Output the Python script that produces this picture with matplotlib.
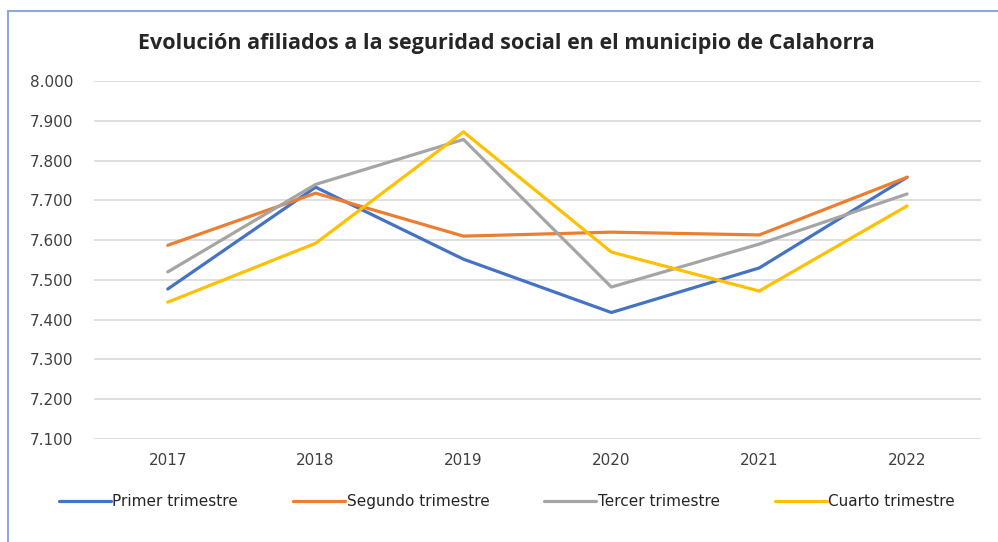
import matplotlib.pyplot as plt
from matplotlib.patches import Rectangle
from matplotlib.ticker import FuncFormatter

# ------------------------------------------------------| Data
years = ['2017', '2018', '2019', '2020', '2021', '2022']
primer = [7.477, 7.733, 7.552, 7.418, 7.530, 7.758]
segundo = [7.587, 7.718, 7.610, 7.620, 7.613, 7.758]
tercer = [7.520, 7.740, 7.853, 7.482, 7.590, 7.716]
cuarto = [7.444, 7.592, 7.872, 7.570, 7.472, 7.686]

labels = ['Primer trimestre', 'Segundo trimestre', 'Tercer trimestre', 'Cuarto trimestre']
colors = ['#4472C4', '#ED7D31', '#A5A5A5', '#FFC000']

plt.rcParams['font.family'] = ['DejaVu Sans']

# ------------------------------------------------------| Plotting
fig = plt.figure(figsize=(9.98, 5.42), dpi=100)
ax = fig.add_axes([0.094, 0.19, 0.889, 0.6606])

# light blue frame around the chart (only top and left visible)
fig.patches.append(Rectangle((0.008, -0.05), 1.1, 1.03, transform=fig.transFigure,
                             fill=False, edgecolor='#8EA9DB', linewidth=1.5))

x_axis = list(range(len(years)))
for serie, lab, col in zip([primer, segundo, tercer, cuarto], labels, colors):
    ax.plot(x_axis, serie, color=col, linewidth=2.3, label=lab, solid_capstyle='round')

ax.set_xlim(-0.5, len(years) - 0.5)
ax.set_ylim(7.1, 8.0)
ax.set_yticks([7.1 + 0.1 * i for i in range(10)])
ax.yaxis.set_major_formatter(FuncFormatter(lambda v, p: f'{v:.3f}'))
ax.set_xticks(x_axis, years)
ax.grid(axis='y', color='#d9d9d9', linewidth=1.2)
ax.set_axisbelow(True)
for s in ax.spines.values():
    s.set_visible(False)
ax.tick_params(axis='both', length=0, labelsize=11, colors='#404040')
ax.tick_params(axis='y', pad=15)
ax.tick_params(axis='x', pad=10)

fig.text(0.507, 0.919, 'Evolución afiliados a la seguridad social en el municipio de Calahorra',
         ha='center', va='center', fontsize=15.5, fontweight='bold', color='#262626',
         family='Open Sans')

fig.legend(loc='center', bbox_to_anchor=(0.508, 0.075), ncol=4, frameon=False,
           fontsize=11, handlelength=3.4, handletextpad=0.1, columnspacing=3.6,
           labelcolor='#262626')

plt.savefig('out.png', dpi=100)
